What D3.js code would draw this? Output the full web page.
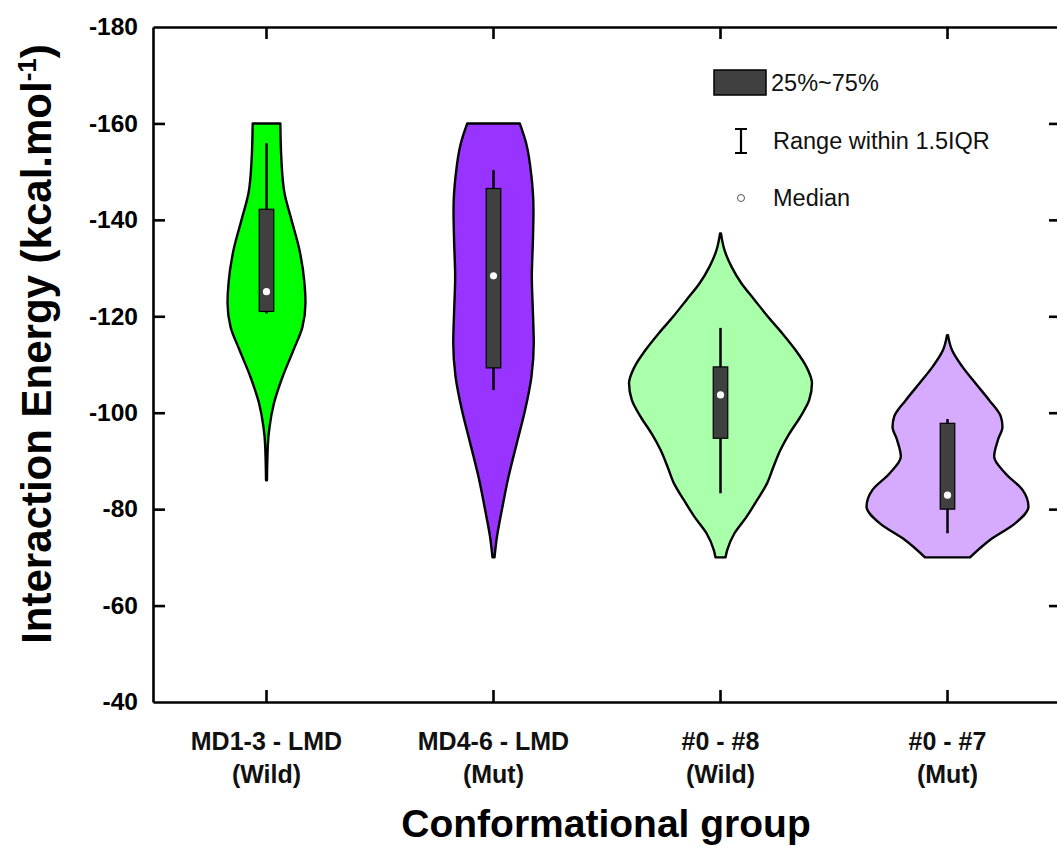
<!DOCTYPE html>
<html>
<head>
<meta charset="utf-8">
<script src="https://cdn.jsdelivr.net/npm/d3@7"></script>
<style>
  body { margin: 0; background: #fff; }
  text { font-family: "Liberation Sans", Arial, sans-serif; }
</style>
</head>
<body>
<div id="graph"></div>
<script>
"use strict";

let width = 1057,
    height = 847;

const margin = { top: 27, right: -4, bottom: 145, left: 153 };

// categories, two lines each
const groups = ["MD1-3 - LMD|(Wild)", "MD4-6 - LMD|(Mut)", "#0 - #8|(Wild)", "#0 - #7|(Mut)"];
const fills = ["#00ff00", "#9933ff", "#aaffaa", "#d5aaff"];

const yTicks = [-180, -160, -140, -120, -100, -80, -60, -40];

// violin outlines: energy values and relative density (1 = widest violin)
const energy1 = [-160, -152.4, -145.5, -140, -133.7, -126.9, -122.8, -117.8, -113, -107.4, -102, -97, -93.7, -86];
const dens1 = [0.151, 0.163, 0.197, 0.273, 0.361, 0.415, 0.426, 0.393, 0.295, 0.175, 0.082, 0.033, 0.016, 0.005];

const energy2 = [-160, -155.9, -149, -142, -135.2, -128.2, -121.3, -114.4, -107.5, -100.6, -93.7, -86.7, -79.8, -74.3, -70];
const dens2 = [0.287, 0.357, 0.415, 0.437, 0.430, 0.419, 0.430, 0.440, 0.415, 0.346, 0.255, 0.164, 0.091, 0.038, 0.011];

const energy3 = [-137.2, -133.7, -130.3, -126.8, -123.4, -119.9, -116.5, -113, -109.5, -106.1, -102.6, -99.2, -95.7, -92.3, -88.8, -85.4, -81.9, -78.4, -75, -71.5, -70];
const dens3 = [0.005, 0.044, 0.120, 0.230, 0.372, 0.519, 0.674, 0.820, 0.940, 1.0, 0.969, 0.874, 0.754, 0.656, 0.579, 0.510, 0.401, 0.284, 0.153, 0.073, 0.055];

const energy4 = [-116.1, -113, -109.5, -106.1, -102.6, -99.2, -97.1, -94.4, -90.9, -87.4, -84, -80.5, -77.1, -73.6, -70];
const dens4 = [0.005, 0.049, 0.164, 0.306, 0.456, 0.583, 0.601, 0.552, 0.510, 0.634, 0.820, 0.885, 0.743, 0.464, 0.246];

// box stats
const q1 = [-121.0, -109.3, -94.7, -80.0];
const q3 = [-142.2, -146.5, -109.5, -97.8];
const medians = [-125.1, -128.4, -103.7, -82.9];
const whiskLow = [-120.6, -104.7, -83.3, -75.0];
const whiskHigh = [-155.9, -150.3, -117.6, -98.7];

const legendLabels = ["25%~75%", "Range within 1.5IQR", "Median"];

window.onload = function () {
    let svg = d3.select("#graph")
        .append("svg")
        .attr("width", width)
        .attr("height", height);

    let x = d3.scaleBand()
        .domain(groups)
        .range([margin.left, width - margin.right])
        .padding(0);

    let y = d3.scaleLinear()
        .domain([-180, -40])
        .range([margin.top, height - margin.bottom]);

    let w = d3.scaleLinear()
        .domain([0, 1])
        .range([0, x.bandwidth() * 0.403]);

    const violins = [
        { e: energy1, d: dens1 },
        { e: energy2, d: dens2 },
        { e: energy3, d: dens3 },
        { e: energy4, d: dens4 },
    ];

    let plot = svg.append("g");

    violins.forEach((v, i) => {
        let cx = x(groups[i]) + x.bandwidth() / 2;
        let pts = v.e.map((e, k) => ({ e: e, d: v.d[k] }));
        let area = d3.area()
            .y(d => y(d.e))
            .x0(d => cx - w(d.d))
            .x1(d => cx + w(d.d))
            .curve(d3.curveMonotoneY);
        plot.append("path")
            .datum(pts)
            .attr("d", area)
            .attr("fill", fills[i])
            .attr("stroke", "#000")
            .attr("stroke-width", 2.4)
            .attr("stroke-linejoin", "round");

        let bw = x.bandwidth() * 0.064;
        plot.append("line")
            .attr("x1", cx).attr("x2", cx)
            .attr("y1", y(whiskHigh[i])).attr("y2", y(whiskLow[i]))
            .attr("stroke", "#000")
            .attr("stroke-width", 2.5);
        plot.append("rect")
            .attr("x", cx - bw / 2)
            .attr("width", bw)
            .attr("y", y(q3[i]))
            .attr("height", y(q1[i]) - y(q3[i]))
            .attr("fill", "#404040")
            .attr("stroke", "#000")
            .attr("stroke-width", 1.2);
        plot.append("circle")
            .attr("cx", cx)
            .attr("cy", y(medians[i]))
            .attr("r", 3.6)
            .attr("fill", "#fff");
    });

    // axes (ticks point inward)
    let axisL = svg.append("g")
        .attr("transform", "translate(" + margin.left + ",0)")
        .call(d3.axisLeft(y).tickValues(yTicks).tickSize(-12).tickPadding(15).tickSizeOuter(0)
            .tickFormat(d => String(d)));
    let axisR = svg.append("g")
        .attr("transform", "translate(" + (width - margin.right) + ",0)")
        .call(d3.axisRight(y).tickValues(yTicks.slice(1, -1)).tickSize(-12).tickFormat("").tickSizeOuter(0));
    let axisT = svg.append("g")
        .attr("transform", "translate(0," + margin.top + ")")
        .call(d3.axisTop(x).tickSize(-12).tickFormat("").tickSizeOuter(0));
    let axisB = svg.append("g")
        .attr("transform", "translate(0," + (height - margin.bottom) + ")")
        .call(d3.axisBottom(x).tickSize(-12).tickFormat("").tickSizeOuter(0));

    [axisL, axisR, axisT, axisB].forEach(a => {
        a.select(".domain").attr("stroke", "#000").attr("stroke-width", 2.6);
        a.selectAll(".tick line").attr("stroke", "#000").attr("stroke-width", 2.6);
    });
    axisL.selectAll(".tick line").filter(d => d == -180 || d == -40).remove();
    axisL.selectAll(".tick text")
        .attr("font-size", "24.5px")
        .attr("font-weight", "bold")
        .attr("font-family", "Liberation Sans, Arial, sans-serif")
        .attr("fill", "#000");

    // x tick labels, two lines
    let xl = svg.append("g");
    groups.forEach(g => {
        let parts = g.split("|");
        let t = xl.append("text")
            .attr("text-anchor", "middle")
            .attr("font-size", "25px")
            .attr("font-weight", "bold")
            .attr("fill", "#111");
        parts.forEach((p, k) => {
            t.append("tspan")
                .attr("x", x(g) + x.bandwidth() / 2)
                .attr("y", 750 + k * 33)
                .text(p);
        });
    });

    // axis titles
    svg.append("text")
        .attr("x", 606)
        .attr("y", 837)
        .attr("text-anchor", "middle")
        .attr("font-size", "39px")
        .attr("font-weight", "bold")
        .text("Conformational group");

    let yt = svg.append("text")
        .attr("transform", "translate(51,344) rotate(-90)")
        .attr("text-anchor", "middle")
        .attr("font-size", "42px")
        .attr("font-weight", "bold");
    yt.append("tspan").text("Interaction Energy (kcal.mol");
    yt.append("tspan").attr("font-size", "26px").attr("dy", -15).text("-1");
    yt.append("tspan").attr("dy", 15).text(")");

    // legend
    let lg = svg.append("g");
    lg.append("rect")
        .attr("x", 714).attr("y", 70)
        .attr("width", 52).attr("height", 25)
        .attr("fill", "#404040")
        .attr("stroke", "#000")
        .attr("stroke-width", 1.5);
    lg.append("path")
        .attr("d", "M735,129H747M741,129V153M735,153H747")
        .attr("stroke", "#000")
        .attr("stroke-width", 2.2)
        .attr("fill", "none");
    lg.append("circle")
        .attr("cx", 741).attr("cy", 198).attr("r", 3.5)
        .attr("fill", "#fff")
        .attr("stroke", "#555")
        .attr("stroke-width", 1);
    const ly = [83, 141, 198];
    const lx = [771, 773, 773];
    legendLabels.forEach((l, i) => {
        lg.append("text")
            .attr("x", lx[i])
            .attr("y", ly[i])
            .attr("dy", "0.35em")
            .attr("font-size", "23.5px")
            .attr("fill", "#111")
            .text(l);
    });
}
</script>
</body>
</html>
